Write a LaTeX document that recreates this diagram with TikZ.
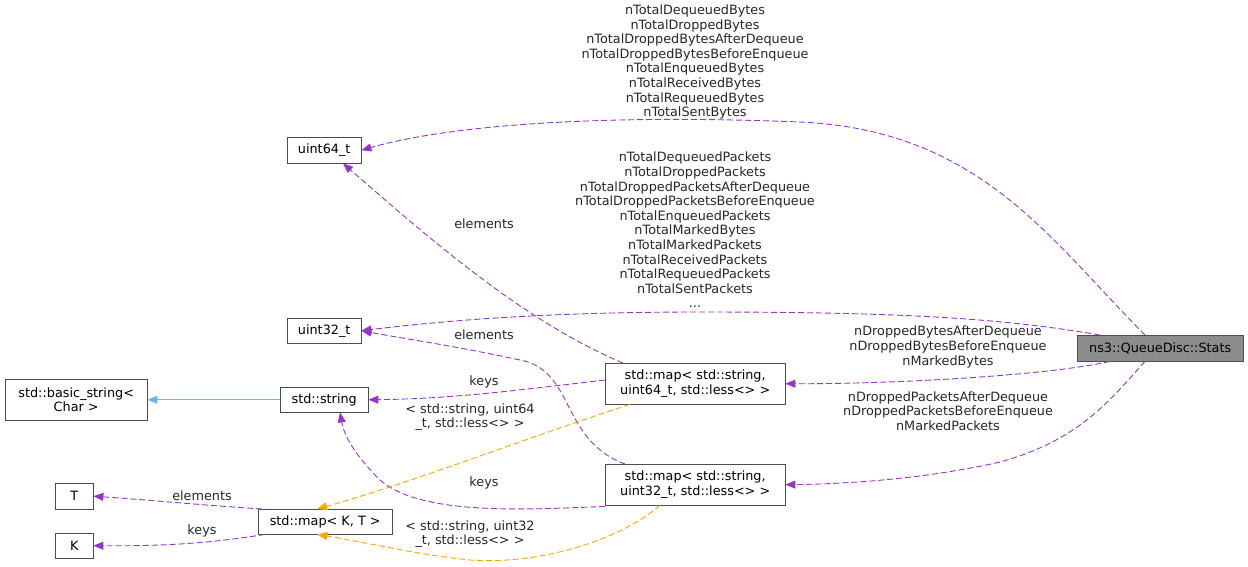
\documentclass[tikz,border=0pt]{standalone}
\usepackage{fontspec}
\setmainfont{DejaVu Sans}
\usetikzlibrary{arrows.meta}
\definecolor{pur}{HTML}{9A32CD}
\definecolor{ora}{HTML}{FFA500}
\definecolor{blu}{HTML}{63B8FF}
\begin{document}
\begin{tikzpicture}[x=1pt,y=-1pt,
 every node/.style={font=\fontsize{12.8}{14.6}\selectfont},
 box/.style={draw=black!70,fill=white,inner sep=0pt,align=center,anchor=north west},
 lab/.style={align=center,inner sep=0pt,text=black!85},
 pe/.style={draw=pur,line width=0.9pt,dash pattern=on 6pt off 3pt,-{Triangle[width=8pt,length=10pt]}},
 oe/.style={draw=ora,line width=0.9pt,dash pattern=on 6pt off 3pt,-{Triangle[width=8pt,length=10pt]}},
 be/.style={draw=blu,line width=0.9pt,-{Triangle[width=8pt,length=10pt]}}]
\useasboundingbox (0,0) rectangle (1248,566);
\node[box,fill=black!45,minimum width=166pt,minimum height=26pt] (st) at (1077,335) {ns3::QueueDisc::Stats};
\node[box,minimum width=74pt,minimum height=26pt] (u64) at (287,137) {uint64\_t};
\node[box,minimum width=74pt,minimum height=25pt] (u32) at (287,318) {uint32\_t};
\node[box,minimum width=142pt,minimum height=41pt] (bs) at (5,379) {std::basic\_string<\\Char >};
\node[box,minimum width=88pt,minimum height=25pt] (ss) at (280,387) {std::string};
\node[box,minimum width=180pt,minimum height=41pt] (m64) at (605,363) {std::map< std::string,\\uint64\_t, std::less<> >};
\node[box,minimum width=180pt,minimum height=41pt] (m32) at (605,464) {std::map< std::string,\\uint32\_t, std::less<> >};
\node[box,minimum width=38pt,minimum height=26pt] (T) at (55,483) {T};
\node[box,minimum width=38pt,minimum height=25pt] (K) at (55,533) {K};
\node[box,minimum width=134pt,minimum height=25pt] (mkt) at (258,509) {std::map< K, T >};

\draw[pe] ([xshift=68pt]st.north west) .. controls (1050,240) and (980,130) .. (800,122) .. controls (600,114) and (450,125) .. (u64.east);
\node[lab] at (695,62) {nTotalDequeuedBytes\\nTotalDroppedBytes\\nTotalDroppedBytesAfterDequeue\\nTotalDroppedBytesBeforeEnqueue\\nTotalEnqueuedBytes\\nTotalReceivedBytes\\nTotalRequeuedBytes\\nTotalSentBytes};
\draw[pe] ([xshift=23pt]st.north west) .. controls (1000,318) and (900,312) .. (700,312) .. controls (550,312) and (450,320) .. (u32.east);
\node[lab] at (695,230) {nTotalDequeuedPackets\\nTotalDroppedPackets\\nTotalDroppedPacketsAfterDequeue\\nTotalDroppedPacketsBeforeEnqueue\\nTotalEnqueuedPackets\\nTotalMarkedBytes\\nTotalMarkedPackets\\nTotalReceivedPackets\\nTotalRequeuedPackets\\nTotalSentPackets\\...};
\draw[pe] ([xshift=33pt]st.south west) .. controls (1050,375) and (900,384) .. (m64.east);
\node[lab] at (948,347) {nDroppedBytesAfterDequeue\\nDroppedBytesBeforeEnqueue\\nMarkedBytes};
\draw[pe] ([xshift=68pt]st.south west) .. controls (1110,400) and (1080,440) .. (1000,462) .. controls (920,480) and (840,484) .. (m32.east);
\node[lab] at (948,411) {nDroppedPacketsAfterDequeue\\nDroppedPacketsBeforeEnqueue\\nMarkedPackets};

\draw[pe] ([xshift=18pt]m64.north west) .. controls (520,320) and (420,230) .. ([xshift=56pt]u64.south west);
\node[lab,fill=white] at (484,224) {elements};
\draw[pe] ([yshift=-17pt]m64.north west) .. controls (520,390) and (450,399) .. (ss.east);
\node[lab] at (484,382) {keys};
\draw[pe] ([xshift=20pt]m32.north west) .. controls (560,440) and (575,370) .. (520,360) .. controls (450,345) and (400,338) .. (u32.east);
\node[lab] at (484,335) {elements};
\draw[pe] ([yshift=-1pt]m32.south west) .. controls (520,510) and (420,515) .. (380,480) .. controls (360,460) and (345,440) .. ([xshift=60pt]ss.south west);
\node[lab] at (484,483) {keys};
\draw[be] (ss.west) -- (bs.east);
\draw[oe] ([xshift=25pt]m64.south west) .. controls (520,440) and (420,480) .. ([xshift=-8pt]mkt.north);
\node[lab] at (470,417) {< std::string, uint64\\\_t, std::less<> >};
\draw[oe] ([xshift=55pt]m32.south west) .. controls (620,540) and (540,565) .. (470,560) .. controls (420,555) and (380,545) .. ([xshift=-8pt]mkt.south);
\node[lab] at (470,534) {< std::string, uint32\\\_t, std::less<> >};
\draw[pe] ([xshift=4pt]mkt.north west) .. controls (200,505) and (150,500) .. (T.east);
\node[lab] at (202,496) {elements};
\draw[pe] ([xshift=7pt]mkt.south west) .. controls (200,545) and (150,546) .. (K.east);
\node[lab] at (202,531) {keys};
\end{tikzpicture}
\end{document}
